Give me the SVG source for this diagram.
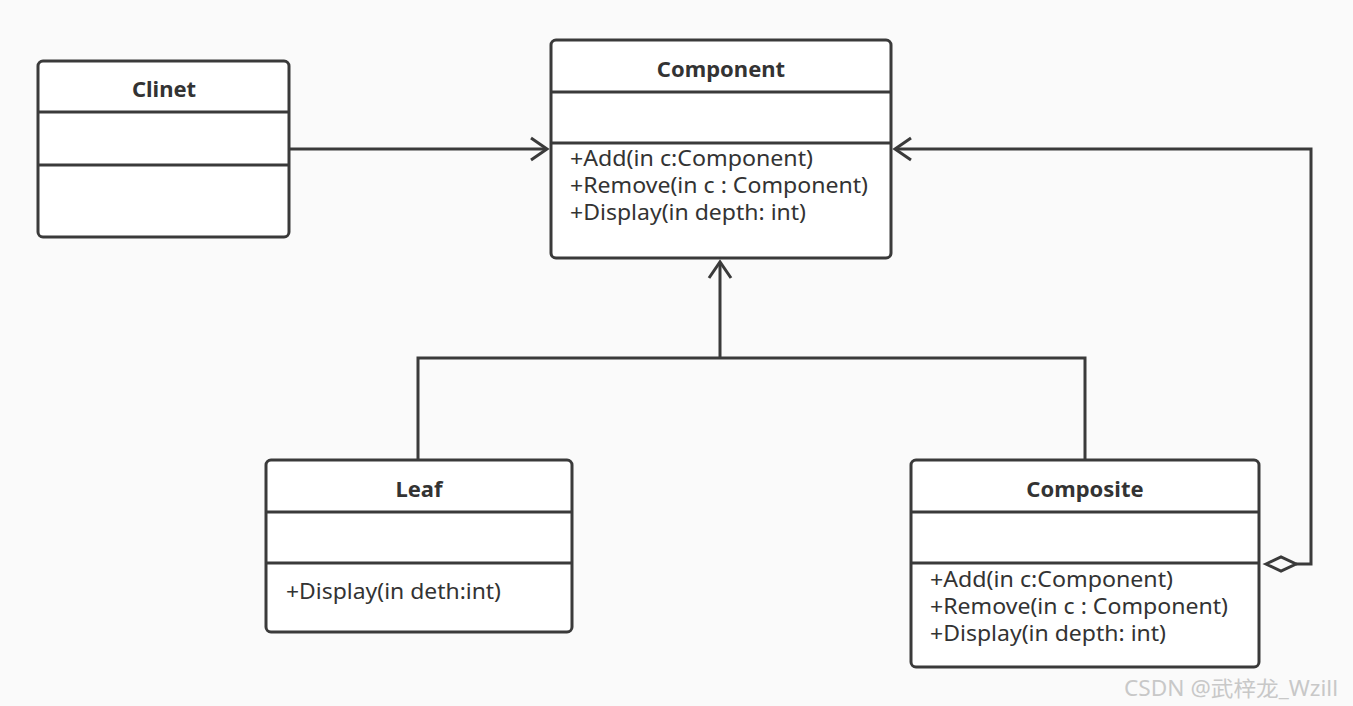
<svg xmlns="http://www.w3.org/2000/svg" width="1353" height="706" viewBox="0 0 1353 706">
<style>
.box{fill:#fff;stroke:#3a3a3a;stroke-width:3}
.div{stroke:#3a3a3a;stroke-width:3}
.t{font-family:"Noto Sans","Open Sans",sans-serif;font-weight:bold;font-size:22px;fill:#333;text-anchor:middle}
.m{font-family:"Noto Sans","Open Sans",sans-serif;font-size:21px;fill:#333}
.c{fill:none;stroke:#3a3a3a;stroke-width:3}
.wm{font-family:"Noto Sans","Noto Sans CJK SC",sans-serif;font-size:21px;fill:#c8c8c8}
</style>
<rect width="1353" height="706" fill="#fafafa"/>
<g id="connectors">
<path class="c" d="M289,149 H547"/>
<path class="c" d="M531,138 L547,149 L531,160"/>
<path class="c" d="M418,460 V358 H1085 V460"/>
<path class="c" d="M720,358 V262"/>
<path class="c" d="M709,278 L720,262 L731,278"/>
<path class="c" d="M1296,564 H1311 V149 H895"/>
<path class="c" d="M911,138 L895,149 L911,160"/>
<path class="c" d="M1266,564 L1281,557 L1296,564 L1281,571 Z" fill="#fff"/>
</g>
<g id="clinet">
<rect class="box" x="38" y="61" width="251" height="176" rx="5"/>
<line class="div" x1="38" y1="112" x2="289" y2="112"/>
<line class="div" x1="38" y1="165" x2="289" y2="165"/>
<text class="t" x="164" y="97">Clinet</text>
</g>
<g id="component">
<rect class="box" x="551" y="40" width="340" height="218" rx="5"/>
<line class="div" x1="551" y1="92" x2="891" y2="92"/>
<line class="div" x1="551" y1="143" x2="891" y2="143"/>
<text class="t" x="721" y="77">Component</text>
<text class="m" x="570" y="166" textLength="243" lengthAdjust="spacingAndGlyphs">+Add(in c:Component)</text>
<text class="m" x="570" y="193" textLength="298" lengthAdjust="spacingAndGlyphs">+Remove(in c : Component)</text>
<text class="m" x="570" y="220" textLength="236" lengthAdjust="spacingAndGlyphs">+Display(in depth: int)</text>
</g>
<g id="leaf">
<rect class="box" x="266" y="460" width="306" height="172" rx="5"/>
<line class="div" x1="266" y1="512" x2="572" y2="512"/>
<line class="div" x1="266" y1="563" x2="572" y2="563"/>
<text class="t" x="419" y="497">Leaf</text>
<text class="m" x="286" y="599" textLength="215" lengthAdjust="spacingAndGlyphs">+Display(in deth:int)</text>
</g>
<g id="composite">
<rect class="box" x="911" y="460" width="348" height="207" rx="5"/>
<line class="div" x1="911" y1="512" x2="1259" y2="512"/>
<line class="div" x1="911" y1="563" x2="1259" y2="563"/>
<text class="t" x="1085" y="497">Composite</text>
<text class="m" x="930" y="587" textLength="243" lengthAdjust="spacingAndGlyphs">+Add(in c:Component)</text>
<text class="m" x="930" y="614" textLength="298" lengthAdjust="spacingAndGlyphs">+Remove(in c : Component)</text>
<text class="m" x="930" y="641" textLength="236" lengthAdjust="spacingAndGlyphs">+Display(in depth: int)</text>
</g>
<text class="wm" x="1124" y="696" textLength="214" lengthAdjust="spacingAndGlyphs">CSDN @武梓龙_Wzill</text>
</svg>
